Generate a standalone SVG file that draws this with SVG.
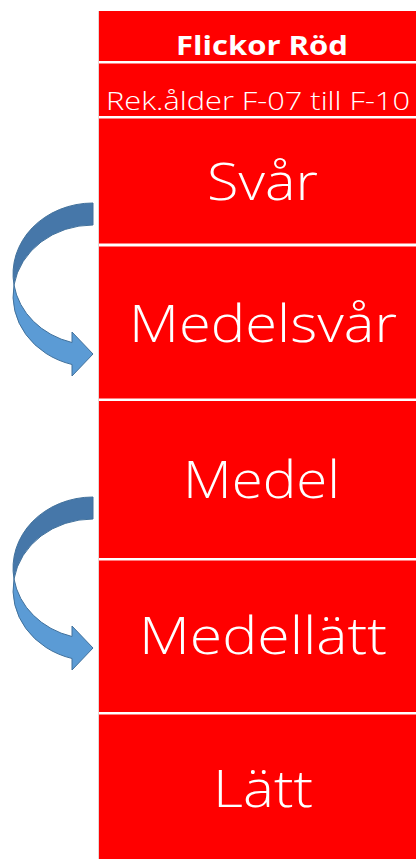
<svg xmlns="http://www.w3.org/2000/svg" width="416" height="859" viewBox="0 0 416 859">
<style>
.cell{fill:#ff0000}
.t{fill:#ffffff;font-family:"Open Sans","Liberation Sans",sans-serif;text-anchor:middle}
.big{font-size:52px;font-weight:350}
.back{fill:#4677a9;stroke:#41719c;stroke-width:1}
.front{fill:#5b9bd5;stroke:#41719c;stroke-width:1}
</style>
<rect x="0" y="0" width="416" height="859" fill="#ffffff"/>
<line x1="98.5" y1="11" x2="98.5" y2="859" stroke="#e6d6d6" stroke-width="1"/>
<g id="n-title"><rect class="cell" x="99" y="11" width="317" height="50"/><text class="t" x="262" y="55" font-size="27" font-weight="bold" textLength="172" lengthAdjust="spacingAndGlyphs">Flickor Röd</text></g>
<g id="n-age"><rect class="cell" x="99" y="63.5" width="317" height="52.5"/><text class="t" x="258" y="110" font-size="26" font-weight="350" textLength="304" lengthAdjust="spacingAndGlyphs">Rek.ålder F-07 till F-10</text></g>
<g id="n-svar"><rect class="cell" x="99" y="118.5" width="317" height="125"/><text class="t big" x="262.5" y="200" textLength="111" lengthAdjust="spacingAndGlyphs">Svår</text></g>
<g id="n-medelsvar"><rect class="cell" x="99" y="246.5" width="317" height="152"/><text class="t big" x="263" y="342" textLength="268" lengthAdjust="spacingAndGlyphs">Medelsvår</text></g>
<g id="n-medel"><rect class="cell" x="99" y="401" width="317" height="157"/><text class="t big" x="261.5" y="498" textLength="157" lengthAdjust="spacingAndGlyphs">Medel</text></g>
<g id="n-medellatt"><rect class="cell" x="99" y="560.5" width="317" height="151.5"/><text class="t big" x="263" y="654" textLength="248" lengthAdjust="spacingAndGlyphs">Medellätt</text></g>
<g id="n-latt"><rect class="cell" x="99" y="714.5" width="317" height="144.5"/><text class="t big" x="263" y="807" textLength="100" lengthAdjust="spacingAndGlyphs">Lätt</text></g>
<defs>
<g id="curved">
<path class="back" d="M93,203 A80,71 0 0 0 14,285 A80,71 0 0 1 93,225 Z"/>
<path class="front" d="M14,285 A80,71 0 0 0 72,364.5 L72,376 L93,354 L72,332 L72,342.5 A80,71 0 0 1 14,285 Z"/>
</g>
</defs>
<g id="connectors">
<use href="#curved"/>
<use href="#curved" transform="translate(0,294)"/>
</g>
</svg>
